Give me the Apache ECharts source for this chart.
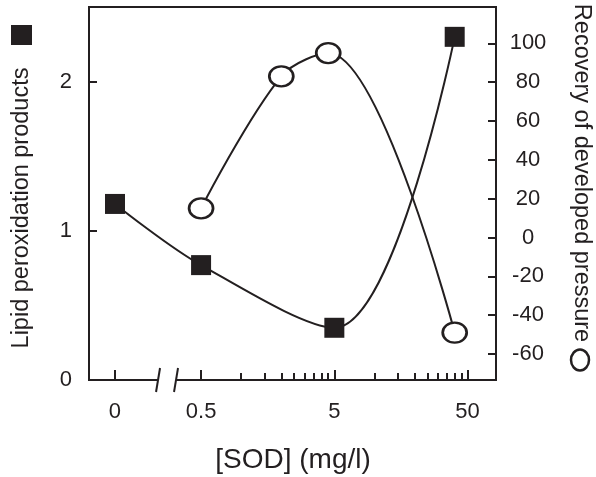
<!DOCTYPE html>
<html>
<head>
<meta charset="utf-8">
<script src="https://cdn.jsdelivr.net/npm/echarts@6/dist/echarts.min.js"></script>
<style>
  html, body { margin: 0; padding: 0; background: #fff; }
  #chart { width: 596px; height: 477px; }
</style>
</head>
<body>
<div id="chart"></div>
<script>
// Lipid peroxidation products vs. SOD concentration (mg/l)
const sodLipid = [0, 0.5, 5, 40];
const lipid = [1.18, 0.77, 0.35, 2.30];

// Recovery of developed pressure vs. SOD concentration (mg/l)
const sodRecovery = [0.5, 2, 4.5, 40];
const recovery = [15, 83, 95, -49];

// Axis ticks and labels
const xMajorTicks = [0, 0.5, 5, 50];
const xMajorLabels = ['0', '0.5', '5', '50'];
const xMinorTicks = [1, 1.5, 2, 2.5, 3, 3.5, 4, 4.5, 10, 15, 20, 25, 30, 35, 40, 45];
const leftTicks = [0, 1, 2];
const rightTicks = [-60, -40, -20, 0, 20, 40, 60, 80, 100];

// The x axis is log10 of the dose; the zero dose sits left of an axis break.
const ZERO_POS = -0.947;
const BREAK_POS = [-0.624, -0.489];
const X_MIN = -1.142, X_MAX = 1.912;
const pos = c => (c === 0 ? ZERO_POS : Math.log10(c));

const INK = '#231f20';
const FONT = '"Liberation Sans", Arial, Helvetica, sans-serif';

const chart = echarts.init(document.getElementById('chart'), null, { renderer: 'canvas' });

const hiddenLine = { show: false, onZero: false };
const baseX = {
  type: 'value', min: X_MIN, max: X_MAX, position: 'bottom',
  axisLine: hiddenLine, splitLine: { show: false }
};

const option = {
  animation: false,
  backgroundColor: '#fff',
  grid: {
    left: 89, right: 100, top: 7, bottom: 97,
    show: true, borderColor: INK, borderWidth: 2, backgroundColor: 'transparent'
  },
  xAxis: [
    Object.assign({}, baseX, {
      axisTick: {
        show: true, inside: true, length: 10,
        lineStyle: { color: INK, width: 2 },
        customValues: xMajorTicks.map(pos)
      },
      axisLabel: {
        show: true, margin: 21, color: INK, fontFamily: FONT, fontSize: 22,
        customValues: xMajorTicks.map(pos),
        formatter: v => {
          let best = 0;
          xMajorTicks.forEach((t, i) => {
            if (Math.abs(pos(t) - v) < Math.abs(pos(xMajorTicks[best]) - v)) best = i;
          });
          return xMajorLabels[best];
        }
      }
    }),
    Object.assign({}, baseX, {
      axisTick: {
        show: true, inside: true, length: 7,
        lineStyle: { color: INK, width: 2 },
        customValues: xMinorTicks.map(pos)
      },
      axisLabel: { show: false }
    })
  ],
  yAxis: [
    {
      type: 'value', min: 0, max: 2.5, position: 'left',
      axisLine: hiddenLine, splitLine: { show: false },
      axisTick: {
        show: true, inside: true, length: 8,
        lineStyle: { color: INK, width: 2 }, customValues: leftTicks
      },
      axisLabel: {
        margin: 17, color: INK, fontFamily: FONT, fontSize: 22,
        customValues: leftTicks
      }
    },
    {
      type: 'value', min: -73.4, max: 118.7, position: 'right',
      axisLine: hiddenLine, splitLine: { show: false },
      axisTick: {
        show: true, inside: true, length: 8,
        lineStyle: { color: INK, width: 2 }, customValues: rightTicks
      },
      axisLabel: {
        margin: 32, align: 'center', color: INK, fontFamily: FONT, fontSize: 22,
        customValues: rightTicks
      }
    }
  ],
  series: [
    {
      // axis break: gap in the bottom line with two slashes
      type: 'custom', xAxisIndex: 0, yAxisIndex: 0, z: 5, clip: false, silent: true,
      data: [[BREAK_POS[0], 0]],
      renderItem: (params, api) => {
        const a = api.coord([BREAK_POS[0], 0]);
        const b = api.coord([BREAK_POS[1], 0]);
        const slash = p => ({
          type: 'line',
          shape: { x1: p[0] - 2, y1: p[1] + 12, x2: p[0] + 2, y2: p[1] - 12 },
          style: { stroke: INK, lineWidth: 2 }
        });
        return {
          type: 'group',
          children: [
            { type: 'rect', shape: { x: a[0], y: a[1] - 3, width: b[0] - a[0], height: 6 }, style: { fill: '#fff' } },
            slash(a), slash(b)
          ]
        };
      }
    },
    {
      name: 'Lipid peroxidation products',
      type: 'line', xAxisIndex: 0, yAxisIndex: 0, z: 3,
      data: sodLipid.map((c, i) => [pos(c), lipid[i]]),
      smooth: 0.35,
      symbol: 'rect', symbolSize: 20, showSymbol: true,
      lineStyle: { color: INK, width: 2 },
      itemStyle: { color: INK, borderWidth: 0 }
    },
    {
      name: 'Recovery of developed pressure',
      type: 'line', xAxisIndex: 0, yAxisIndex: 1, z: 4,
      data: sodRecovery.map((c, i) => [pos(c), recovery[i]]),
      smooth: 0.35,
      symbol: 'circle', symbolSize: [24, 20], showSymbol: true,
      lineStyle: { color: INK, width: 2 },
      itemStyle: { color: '#fff', borderColor: INK, borderWidth: 2.5 }
    }
  ],
  graphic: [
    {
      type: 'text', x: 22, y: 208, rotation: Math.PI / 2,
      style: { text: 'Lipid peroxidation products', fill: INK, font: '23.5px ' + FONT, align: 'center', verticalAlign: 'middle' }
    },
    { type: 'rect', shape: { x: 11, y: 25, width: 21, height: 20 }, style: { fill: INK } },
    {
      type: 'text', x: 581, y: 173, rotation: -Math.PI / 2,
      style: { text: 'Recovery of developed pressure', fill: INK, font: '23.5px ' + FONT, align: 'center', verticalAlign: 'middle' }
    },
    { type: 'ellipse', shape: { cx: 580, cy: 360, rx: 9, ry: 10.5 }, style: { fill: '#fff', stroke: INK, lineWidth: 2.5 } },
    {
      type: 'text', x: 293, y: 460,
      style: { text: '[SOD] (mg/l)', fill: INK, font: '28px ' + FONT, align: 'center', verticalAlign: 'middle' }
    }
  ]
};

chart.setOption(option);
</script>
</body>
</html>
